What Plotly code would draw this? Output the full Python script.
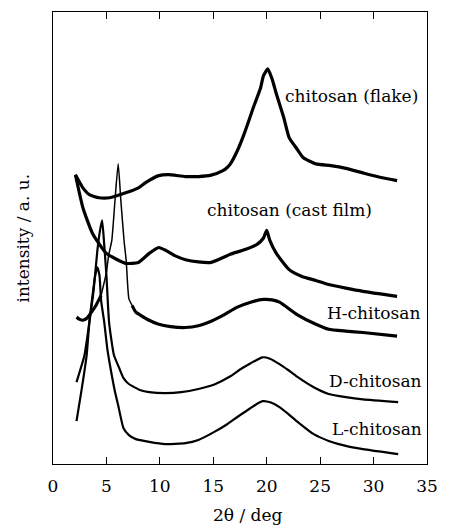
import plotly.graph_objects as go

# ---- data (2θ in deg, intensity in arbitrary units) ----
flake_x = [2.1, 2.8, 3.4, 4.3, 5.3, 6.8, 8.0, 8.7, 9.9, 10.8, 12.4, 13.6, 14.8, 15.9, 16.3, 16.6,
           17.25, 17.9, 18.8, 19.4, 19.7, 20.1, 20.5, 20.9, 21.6, 22.1, 22.8, 23.4, 24.6, 26.0,
           27.4, 29.0, 30.5, 32.2]
flake_y = [64.0, 61.1, 59.6, 58.9, 58.9, 60.0, 61.1, 62.3, 63.8, 64.0, 63.6, 63.6, 63.9, 64.9, 65.6, 66.4,
           69.3, 73.1, 79.2, 83.0, 85.9, 87.4, 85.2, 81.9, 76.6, 72.2, 69.8, 67.8, 66.4, 66.0,
           65.4, 64.4, 63.5, 62.7]

cast_x = [2.1, 2.8, 3.7, 5.0, 6.8, 8.0, 9.0, 9.9, 10.6, 11.4, 12.4, 13.6, 14.8, 16.6, 17.9, 19.1,
          19.7, 20.0, 20.3, 20.9, 22.1, 23.3, 24.6, 25.8, 27.4, 29.0, 32.2]
cast_y = [64.0, 56.7, 51.0, 46.6, 44.4, 44.6, 46.6, 47.9, 47.2, 46.1, 45.2, 44.7, 44.6, 46.4, 47.4, 48.6,
          50.0, 51.7, 49.4, 46.6, 43.0, 41.5, 40.6, 39.7, 38.9, 38.2, 37.1]

H_x = [2.2, 2.5, 2.8, 3.2, 3.6, 4.0, 4.5, 5.0, 5.2, 5.5, 5.8, 6.1, 6.35, 6.65, 6.85, 7.1, 7.4, 7.75,
       8.2, 9.0, 9.9, 11.0, 12.4, 13.6, 14.8, 16.0, 17.25, 18.5, 19.7, 20.5, 21.2, 22.8, 24.6, 25.8,
       27.4, 29.0, 32.2]
H_y = [32.5, 32.0, 31.8, 32.3, 33.6, 35.0, 37.3, 42.4, 46.1, 49.4, 58.3, 66.4, 58.3, 49.4, 45.0, 36.6, 35.1, 33.6,
       32.9, 31.8, 30.9, 30.4, 30.2, 30.6, 31.6, 33.0, 34.7, 35.8, 36.4, 36.3, 35.8, 33.1, 30.9, 29.8,
       29.4, 29.1, 28.3]

D_x = [2.2, 2.95, 3.4, 3.8, 4.15, 4.4, 4.6, 4.8, 5.0, 5.25, 5.7, 6.2, 6.6, 7.1, 8.2, 9.0, 10.5, 12.0,
       13.6, 15.1, 16.6, 17.5, 18.5, 19.6, 20.3, 21.2, 22.0, 22.8, 24.4, 25.8, 27.4, 29.0, 32.3]
D_y = [18.1, 24.1, 31.3, 38.4, 47.2, 51.7, 53.9, 48.3, 41.7, 31.3, 24.1, 21.2, 19.0, 17.7, 16.3, 15.9, 15.7, 15.9,
       16.6, 17.6, 19.4, 20.9, 22.3, 23.6, 23.3, 22.1, 20.8, 19.4, 17.0, 15.5, 14.8, 14.3, 13.7]

L_x = [2.2, 2.7, 3.15, 3.4, 3.7, 3.95, 4.15, 4.35, 4.5, 4.8, 5.1, 5.45, 5.8, 6.1, 6.6, 7.1, 7.75, 9.0,
       10.5, 12.4, 13.6, 15.1, 16.3, 17.25, 18.5, 19.6, 20.4, 21.2, 22.0, 22.8, 24.4, 25.8, 27.4, 29.0, 32.3]
L_y = [9.5, 16.8, 24.1, 31.3, 37.3, 41.7, 43.5, 41.7, 36.2, 31.3, 25.2, 20.3, 16.0, 13.0, 7.9, 6.4, 5.5, 4.9,
       4.4, 4.6, 5.3, 7.1, 8.8, 10.4, 12.4, 13.9, 13.6, 12.6, 11.1, 9.5, 6.6, 5.1, 4.0, 3.3, 2.2]

labels = ["chitosan (flake)", "chitosan (cast film)", "H-chitosan", "D-chitosan", "L-chitosan"]
x_ticks = [0, 5, 10, 15, 20, 25, 30, 35]

FONT = "DejaVu Serif"
fig = go.Figure()

def add(x, y, w):
    fig.add_trace(go.Scatter(x=x, y=y, mode="lines",
                             line=dict(color="black", width=w, shape="spline", smoothing=0.5),
                             showlegend=False, hoverinfo="skip"))

add(flake_x, flake_y, 3.2)
add(cast_x, cast_y, 3.2)
# H-chitosan: thick noisy baseline, thin sharp peak
add(H_x[:7], H_y[:7], 3.2)
add(H_x[6:17], H_y[6:17], 1.5)
add(H_x[16:], H_y[16:], 3.2)
add(D_x, D_y, 2.2)
add(L_x, L_y, 2.2)

ann = [
    dict(text=labels[0], x=34.3, y=81.5, xanchor="right"),
    dict(text=labels[1], x=22.1, y=56.1, xanchor="center"),
    dict(text=labels[2], x=34.5, y=33.3, xanchor="right"),
    dict(text=labels[3], x=34.7, y=18.3, xanchor="right"),
    dict(text=labels[4], x=34.7, y=7.7, xanchor="right"),
]
for a in ann:
    fig.add_annotation(xref="x", yref="y", showarrow=False, yanchor="middle",
                       font=dict(family=FONT, size=17, color="black"), **a)

fig.add_annotation(xref="paper", yref="paper", x=-0.08, y=0.499, text="intensity / a. u.",
                   textangle=-90, showarrow=False, xanchor="center", yanchor="middle",
                   font=dict(family=FONT, size=17, color="black"))
fig.add_annotation(xref="paper", yref="paper", x=0.521, y=-0.113, text="2θ / deg",
                   showarrow=False, xanchor="center", yanchor="middle",
                   font=dict(family=FONT, size=17, color="black"))

fig.update_layout(
    width=449, height=528,
    margin=dict(l=53, r=16, t=11, b=64),
    paper_bgcolor="white", plot_bgcolor="white",
    font=dict(family=FONT, size=17, color="black"),
    xaxis=dict(range=[0, 35], tickvals=x_ticks, ticks="inside", ticklen=7, tickwidth=1.2,
               tickcolor="black", showline=True, linecolor="black", linewidth=1.3,
               mirror="ticks", showgrid=False, zeroline=False, ticklabelstandoff=6,
               tickfont=dict(family=FONT, size=17, color="black")),
    yaxis=dict(range=[0, 100], showticklabels=False, ticks="", showline=True, linecolor="black",
               linewidth=1.3, mirror=True, showgrid=False, zeroline=False),
)

fig.write_html("out.html")
